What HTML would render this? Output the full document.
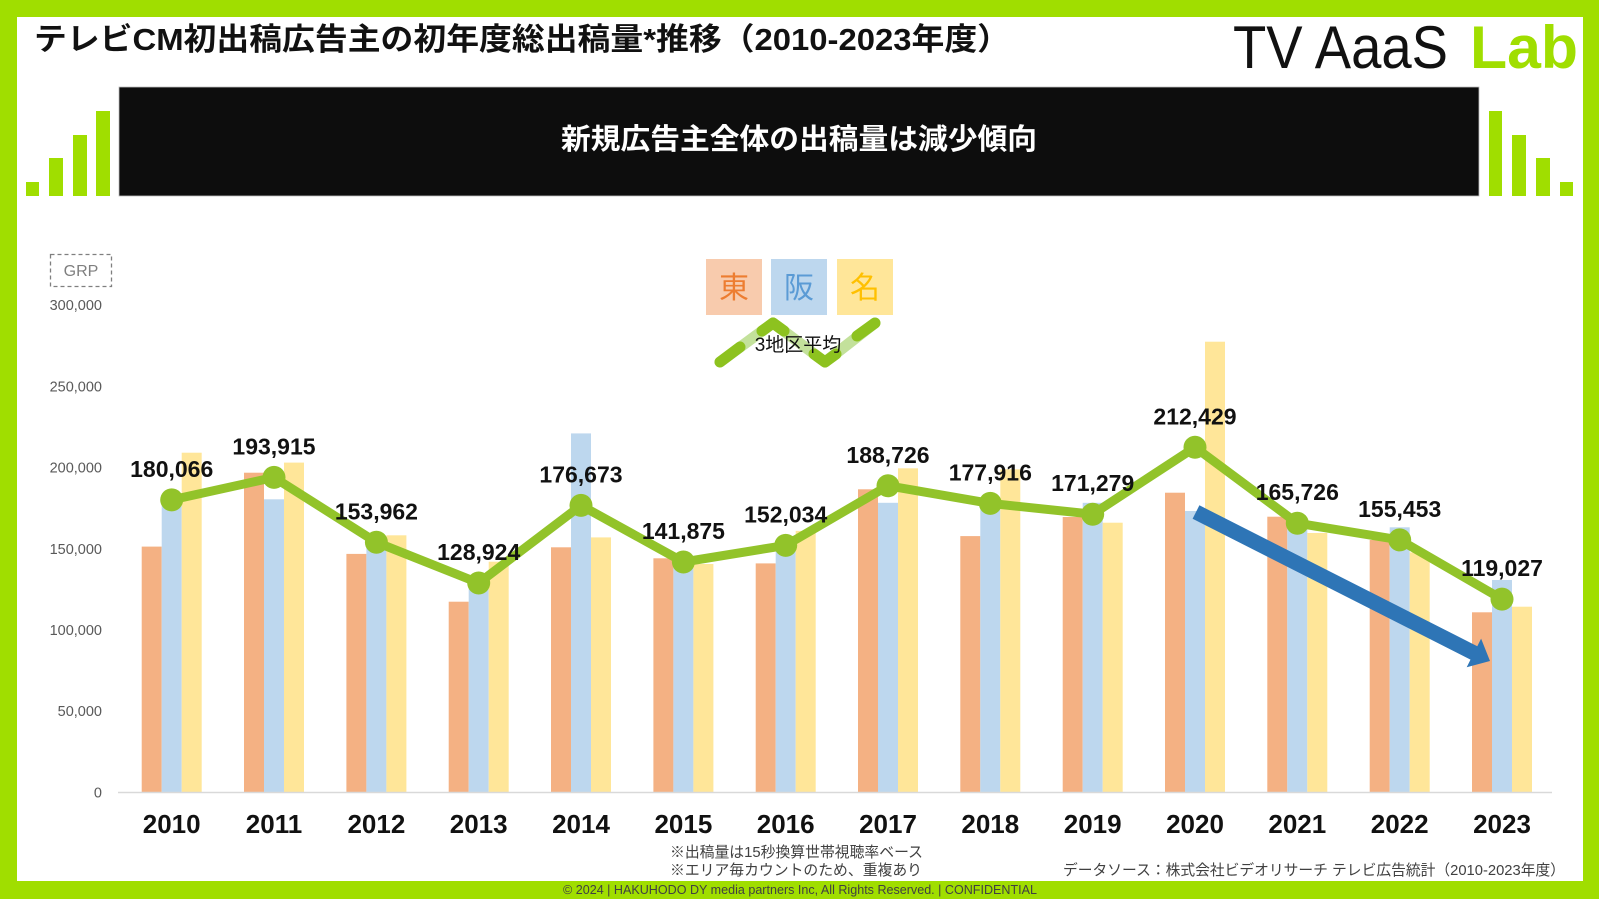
<!DOCTYPE html>
<html><head><meta charset="utf-8"><style>
html,body{margin:0;padding:0;background:#fff;}
svg{display:block;}
text{font-family:"Liberation Sans","Noto Sans CJK JP",sans-serif;}
</style></head><body>
<svg width="1599" height="899" viewBox="0 0 1599 899" xmlns="http://www.w3.org/2000/svg">
<rect x="0" y="0" width="1599" height="899" fill="#a0de00"/>
<rect x="17" y="17" width="1566" height="864" fill="#ffffff"/>

<!-- Title -->
<text x="34" y="50" font-size="31" font-weight="bold" fill="#111" textLength="976" lengthAdjust="spacingAndGlyphs">テレビCM初出稿広告主の初年度総出稿量*推移（2010-2023年度）</text>

<!-- Logo -->
<text x="1233" y="68" font-size="60" fill="#111" textLength="215" lengthAdjust="spacingAndGlyphs">TV AaaS</text>
<text x="1470" y="68" font-size="60" font-weight="bold" fill="#a0de00" textLength="108" lengthAdjust="spacingAndGlyphs">Lab</text>

<!-- Side bars -->
<g fill="#a0de00">
<rect x="26" y="182" width="13" height="14"/>
<rect x="49" y="158" width="14" height="38"/>
<rect x="73" y="135" width="14" height="61"/>
<rect x="96" y="111" width="14" height="85"/>
<rect x="1489" y="111" width="13" height="85"/>
<rect x="1512" y="135" width="14" height="61"/>
<rect x="1536" y="158" width="14" height="38"/>
<rect x="1560" y="182" width="13" height="14"/>
</g>

<!-- Black banner -->
<rect x="119" y="87" width="1360" height="109" fill="#0d0d0d" stroke="#bfbfbf" stroke-width="0.8"/>
<text x="561" y="149" font-size="29" font-weight="bold" fill="#ffffff" textLength="476" lengthAdjust="spacingAndGlyphs">新規広告主全体の出稿量は減少傾向</text>

<!-- GRP box -->
<rect x="50.5" y="254.5" width="61" height="32" fill="none" stroke="#7f7f7f" stroke-width="1.3" stroke-dasharray="4,3"/>
<text x="81" y="276" font-size="16" fill="#7f7f7f" text-anchor="middle">GRP</text>

<!-- Y labels -->
<g font-size="14.5" fill="#595959" text-anchor="end">
<text x="102" y="310">300,000</text>
<text x="102" y="391.5">250,000</text>
<text x="102" y="472.5">200,000</text>
<text x="102" y="554">150,000</text>
<text x="102" y="635">100,000</text>
<text x="102" y="716">50,000</text>
<text x="102" y="797.5">0</text>
</g>

<!-- Legend -->
<rect x="706" y="259" width="56" height="56" fill="#f8cbad"/>
<rect x="771" y="259" width="56" height="56" fill="#bdd7ee"/>
<rect x="837" y="259" width="56" height="56" fill="#ffe699"/>
<text x="734" y="298" font-size="30" fill="#ed7d31" text-anchor="middle">東</text>
<text x="799" y="298" font-size="30" fill="#5b9bd5" text-anchor="middle">阪</text>
<text x="865" y="298" font-size="30" fill="#ffc000" text-anchor="middle">名</text>
<polyline points="720,362 773,323 825,362 875,323" fill="none" stroke="#c3e19b" stroke-width="11" stroke-linecap="round" stroke-linejoin="round"/>
<g stroke="#8dc21f" stroke-width="11" stroke-linecap="round" fill="none">
<line x1="720" y1="362" x2="740" y2="347"/>
<polyline points="762,331 773,323 784,331" stroke-linejoin="round"/>
<polyline points="814,354 825,362 836,354" stroke-linejoin="round"/>
<line x1="857" y1="336" x2="875" y2="323"/>
</g>
<text x="798" y="351" font-size="19" fill="#111" text-anchor="middle">3地区平均</text>

<!-- Bars -->
<g fill="#f4b183">
<rect x="141.7" y="546.6" width="20" height="245.4"/>
<rect x="244.0" y="472.7" width="20" height="319.3"/>
<rect x="346.4" y="553.9" width="20" height="238.1"/>
<rect x="448.7" y="601.7" width="20" height="190.3"/>
<rect x="551.0" y="547.3" width="20" height="244.7"/>
<rect x="653.4" y="558.3" width="20" height="233.7"/>
<rect x="755.7" y="563.4" width="20" height="228.6"/>
<rect x="858.0" y="489.3" width="20" height="302.7"/>
<rect x="960.3" y="536.1" width="20" height="255.9"/>
<rect x="1062.7" y="517.0" width="20" height="275.0"/>
<rect x="1165.0" y="492.7" width="20" height="299.3"/>
<rect x="1267.3" y="516.7" width="20" height="275.3"/>
<rect x="1369.7" y="540.0" width="20" height="252.0"/>
<rect x="1472.0" y="612.3" width="20" height="179.7"/>
</g>
<g fill="#bdd7ee">
<rect x="161.7" y="500.3" width="20" height="291.7"/>
<rect x="264.0" y="499.3" width="20" height="292.7"/>
<rect x="366.4" y="537.7" width="20" height="254.3"/>
<rect x="468.7" y="585.5" width="20" height="206.5"/>
<rect x="571.0" y="433.4" width="20" height="358.6"/>
<rect x="673.4" y="563.5" width="20" height="228.5"/>
<rect x="775.7" y="542.1" width="20" height="249.9"/>
<rect x="878.0" y="502.8" width="20" height="289.2"/>
<rect x="980.3" y="504.8" width="20" height="287.2"/>
<rect x="1082.7" y="502.8" width="20" height="289.2"/>
<rect x="1185.0" y="511.0" width="20" height="281.0"/>
<rect x="1287.3" y="519.9" width="20" height="272.1"/>
<rect x="1389.7" y="527.3" width="20" height="264.7"/>
<rect x="1492.0" y="580.0" width="20" height="212.0"/>
</g>
<g fill="#ffe699">
<rect x="181.7" y="452.7" width="20" height="339.3"/>
<rect x="284.0" y="462.6" width="20" height="329.4"/>
<rect x="386.4" y="535.3" width="20" height="256.7"/>
<rect x="488.7" y="561.7" width="20" height="230.3"/>
<rect x="591.0" y="537.4" width="20" height="254.6"/>
<rect x="693.4" y="564.0" width="20" height="228.0"/>
<rect x="795.7" y="530.9" width="20" height="261.1"/>
<rect x="898.0" y="468.3" width="20" height="323.7"/>
<rect x="1000.3" y="469.3" width="20" height="322.7"/>
<rect x="1102.7" y="522.7" width="20" height="269.3"/>
<rect x="1205.0" y="341.7" width="20" height="450.3"/>
<rect x="1307.3" y="533.0" width="20" height="259.0"/>
<rect x="1409.7" y="552.4" width="20" height="239.6"/>
<rect x="1512.0" y="606.7" width="20" height="185.3"/>
</g>

<!-- Axis -->
<line x1="118" y1="792.5" x2="1552" y2="792.5" stroke="#d9d9d9" stroke-width="1.5"/>

<!-- Line series -->
<polyline points="171.7,499.9 274.0,477.4 376.4,542.3 478.7,583.0 581.0,505.4 683.4,562.0 785.7,545.4 888.0,485.8 990.3,503.4 1092.7,514.2 1195.0,447.3 1297.3,523.2 1399.7,539.9 1502.0,599.1" fill="none" stroke="#92c32a" stroke-width="9" stroke-linejoin="round"/>
<g fill="#92c32a">
<circle cx="171.7" cy="499.9" r="11.5"/>
<circle cx="274.0" cy="477.4" r="11.5"/>
<circle cx="376.4" cy="542.3" r="11.5"/>
<circle cx="478.7" cy="583.0" r="11.5"/>
<circle cx="581.0" cy="505.4" r="11.5"/>
<circle cx="683.4" cy="562.0" r="11.5"/>
<circle cx="785.7" cy="545.4" r="11.5"/>
<circle cx="888.0" cy="485.8" r="11.5"/>
<circle cx="990.3" cy="503.4" r="11.5"/>
<circle cx="1092.7" cy="514.2" r="11.5"/>
<circle cx="1195.0" cy="447.3" r="11.5"/>
<circle cx="1297.3" cy="523.2" r="11.5"/>
<circle cx="1399.7" cy="539.9" r="11.5"/>
<circle cx="1502.0" cy="599.1" r="11.5"/>
</g>

<!-- Blue arrow -->
<polygon points="1199.4,505.3 1477.3,646.2 1481.1,638.6 1490,661 1466.7,667.2 1470.5,659.6 1192.6,518.7" fill="#2e75b6"/>

<!-- Data labels -->
<g font-size="23" font-weight="bold" fill="#111" text-anchor="middle">
<text x="171.7" y="476.9">180,066</text>
<text x="274.0" y="454.4">193,915</text>
<text x="376.4" y="519.3">153,962</text>
<text x="478.7" y="560.0">128,924</text>
<text x="581.0" y="482.4">176,673</text>
<text x="683.4" y="539.0">141,875</text>
<text x="785.7" y="522.4">152,034</text>
<text x="888.0" y="462.8">188,726</text>
<text x="990.3" y="480.4">177,916</text>
<text x="1092.7" y="491.2">171,279</text>
<text x="1195.0" y="424.3">212,429</text>
<text x="1297.3" y="500.2">165,726</text>
<text x="1399.7" y="516.9">155,453</text>
<text x="1502.0" y="576.1">119,027</text>
</g>

<!-- Year labels -->
<g font-size="26" font-weight="bold" fill="#111" text-anchor="middle">
<text x="171.7" y="833">2010</text>
<text x="274.0" y="833">2011</text>
<text x="376.4" y="833">2012</text>
<text x="478.7" y="833">2013</text>
<text x="581.0" y="833">2014</text>
<text x="683.4" y="833">2015</text>
<text x="785.7" y="833">2016</text>
<text x="888.0" y="833">2017</text>
<text x="990.3" y="833">2018</text>
<text x="1092.7" y="833">2019</text>
<text x="1195.0" y="833">2020</text>
<text x="1297.3" y="833">2021</text>
<text x="1399.7" y="833">2022</text>
<text x="1502.0" y="833">2023</text>
</g>

<!-- Notes -->
<g font-size="15" fill="#404040">
<text x="670" y="857" textLength="253" lengthAdjust="spacingAndGlyphs">※出稿量は15秒換算世帯視聴率ベース</text>
<text x="670" y="875" textLength="252" lengthAdjust="spacingAndGlyphs">※エリア毎カウントのため、重複あり</text>
<text x="1063" y="875" textLength="502" lengthAdjust="spacingAndGlyphs">データソース：株式会社ビデオリサーチ テレビ広告統計（2010-2023年度）</text>
</g>
<text x="563" y="894" font-size="13" fill="#404040" textLength="474" lengthAdjust="spacingAndGlyphs">© 2024 | HAKUHODO DY media partners Inc, All Rights Reserved. | CONFIDENTIAL</text>
</svg>
</body></html>
